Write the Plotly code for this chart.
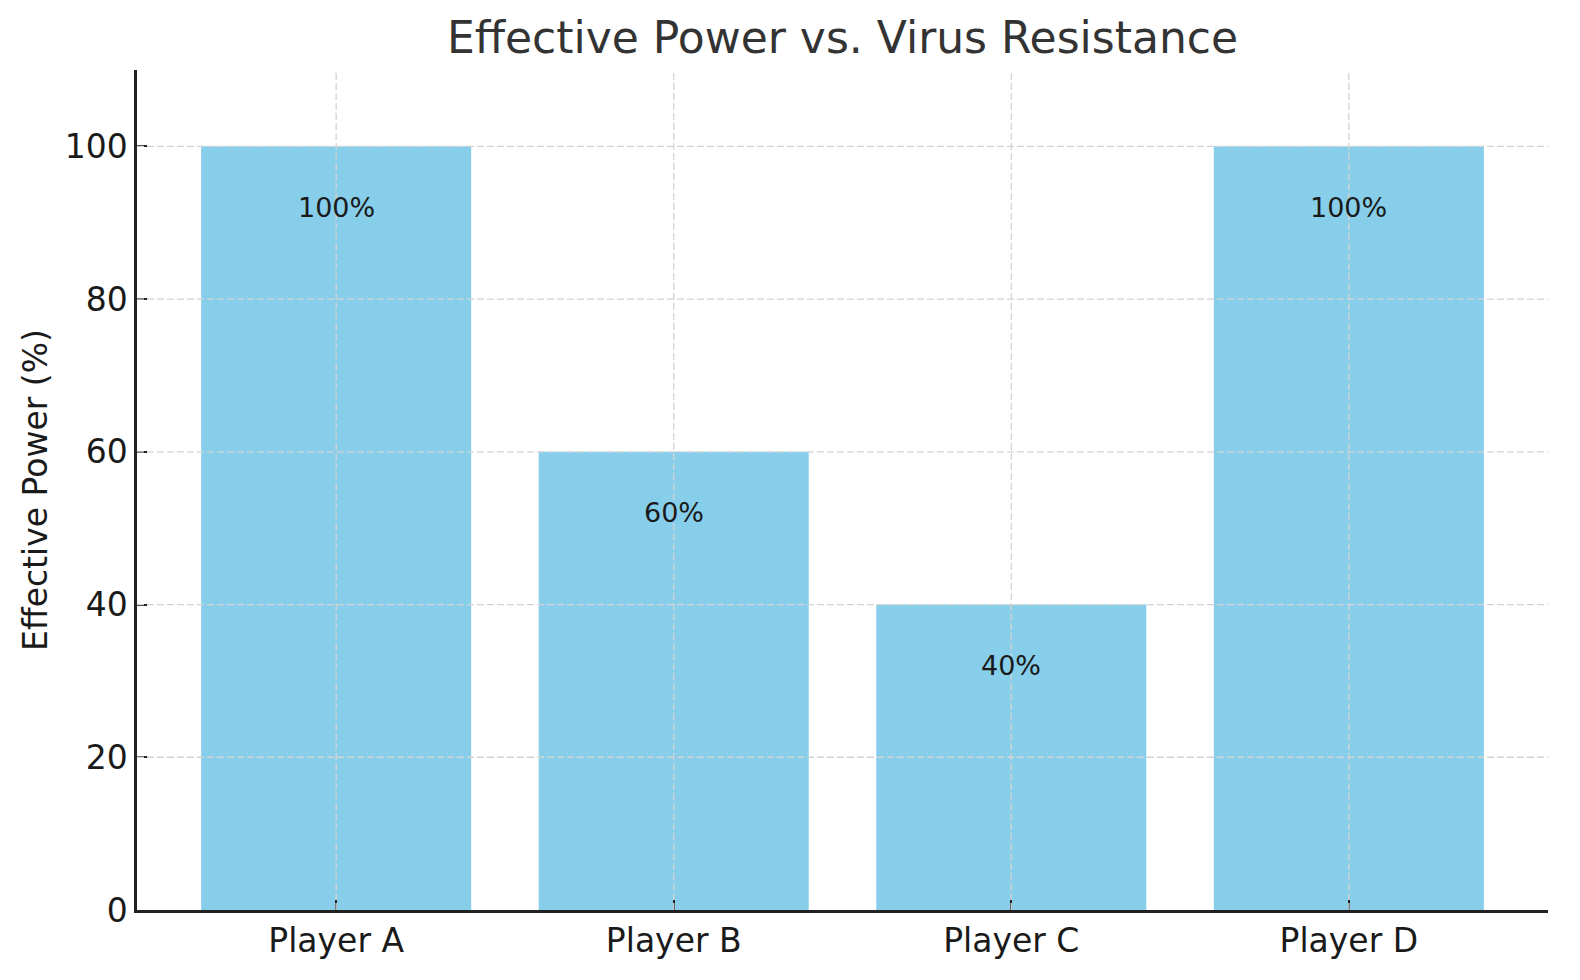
import plotly.graph_objects as go

players = ["Player A", "Player B", "Player C", "Player D"]
effective_power = [100, 60, 40, 100]
bar_labels = ["100%", "60%", "40%", "100%"]
y_ticks = [0, 20, 40, 60, 80, 100]

FONT = "DejaVu Sans"
GRID = "#d3d3d3"

fig = go.Figure()
fig.add_trace(go.Bar(
    x=list(range(len(players))), y=effective_power, width=0.8,
    marker=dict(color="#87CEEB", line_width=0),
    text=bar_labels, textposition="none", hoverinfo="skip",
))

# value labels, a bit below the top of each bar
for i, (v, lab) in enumerate(zip(effective_power, bar_labels)):
    fig.add_annotation(x=i, y=v - 8, text=lab, showarrow=False,
                       font=dict(family=FONT, size=27, color="#1a1a1a"))

# dashed grid drawn over the bars, like the original
for t in y_ticks[1:]:
    fig.add_shape(type="line", xref="paper", x0=0, x1=1, yref="y", y0=t, y1=t,
                  line=dict(color=GRID, width=1.3, dash="7px,3px"), layer="above")
for i in range(len(players)):
    fig.add_shape(type="line", xref="x", x0=i, x1=i, yref="paper", y0=0, y1=1,
                  line=dict(color=GRID, width=1.3, dash="7px,3px"), layer="above")

fig.update_xaxes(
    range=[-0.59, len(players) - 1 + 0.59],
    tickvals=list(range(len(players))), ticktext=players,
    ticks="inside", ticklen=10, tickwidth=2, tickcolor="#222",
    showline=True, linecolor="#222", linewidth=2.5,
    showgrid=False, zeroline=False,
    tickfont=dict(family=FONT, size=33, color="#1a1a1a"),
)
fig.update_yaxes(
    range=[0, 110], tickvals=y_ticks,
    ticks="inside", ticklen=10, tickwidth=2, tickcolor="#222",
    showline=True, linecolor="#222", linewidth=2.5,
    showgrid=False, zeroline=False,
    tickfont=dict(family=FONT, size=33, color="#1a1a1a"),
    title=dict(text="Effective Power (%)", standoff=8,
               font=dict(family=FONT, size=33, color="#1a1a1a")),
)

# page body has an 8px margin, so the figure is a bit smaller than the window
fig.update_layout(
    width=1564, height=964,
    margin=dict(l=129, r=24, t=62, b=62),
    plot_bgcolor="white", paper_bgcolor="white",
    showlegend=False,
    title=dict(text="Effective Power vs. Virus Resistance",
               x=0.5, xref="paper", xanchor="center",
               y=1 - 30 / 964, yref="container", yanchor="middle",
               font=dict(family=FONT, size=44, color="#333333")),
)

fig.write_html("out.html")
